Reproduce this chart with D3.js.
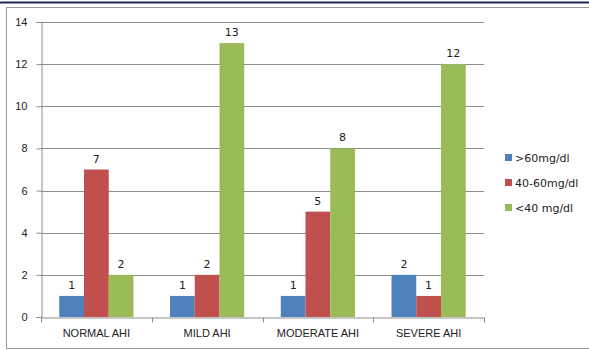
<!DOCTYPE html>
<html>
<head>
<meta charset="utf-8">
<script src="https://cdn.jsdelivr.net/npm/d3@7"></script>
<style>
  body { margin: 0; background: #fff; }
  svg { display: block; font-family: Tahoma, "DejaVu Sans", sans-serif; }
</style>
</head>
<body>
<div id="chart"></div>
<script>
// chart data
var categories = ["NORMAL AHI", "MILD AHI", "MODERATE AHI", "SEVERE AHI"];
var seriesNames = [">60mg/dl", "40-60mg/dl", "<40 mg/dl"];
var above60 = [1, 1, 1, 2];
var from40to60 = [7, 2, 5, 1];
var below40 = [2, 13, 8, 12];
var yTicks = [0, 2, 4, 6, 8, 10, 12, 14];

var seriesValues = [above60, from40to60, below40];
var colors = ["#4F81BD", "#C0504D", "#9BBB59"];

var W = 589, H = 350;
var margin = {top: 22, right: 105, bottom: 33, left: 41};
var width = W - margin.left - margin.right,
    height = H - margin.top - margin.bottom;

var svg = d3.select("#chart").append("svg")
    .attr("width", W)
    .attr("height", H);

// top rule and frame
svg.append("line")
    .attr("x1", 0).attr("x2", W)
    .attr("y1", 2.5).attr("y2", 2.5)
    .attr("stroke", "#1f2a5c").attr("stroke-width", 2);
svg.append("rect")
    .attr("x", 6.5).attr("y", 7.5)
    .attr("width", W).attr("height", 341)
    .attr("fill", "none").attr("stroke", "#9a9a9a");

var g = svg.append("g")
    .attr("transform", "translate(" + margin.left + "," + margin.top + ")");

var x = d3.scaleBand()
    .domain(categories)
    .range([0, width])
    .paddingInner(0.33)
    .paddingOuter(0.165);

var x1 = d3.scaleBand()
    .domain(d3.range(seriesNames.length))
    .range([0, x.bandwidth()]);

var y = d3.scaleLinear()
    .domain([0, 14])
    .range([height, 0]);

// gridlines
g.append("g")
    .selectAll("line")
    .data(yTicks.filter(function(d) { return d > 0; }))
    .enter().append("line")
      .attr("x1", 0).attr("x2", width)
      .attr("y1", function(d) { return Math.round(y(d)) + 0.5; })
      .attr("y2", function(d) { return Math.round(y(d)) + 0.5; })
      .attr("stroke", "#8c8c8c");

// y axis
var yAxis = g.append("g")
    .attr("transform", "translate(0.5,0)")
    .call(d3.axisLeft(y).tickValues(yTicks).tickSize(5).tickPadding(9));
yAxis.select(".domain").attr("stroke", "#8c8c8c");
yAxis.selectAll(".tick line").attr("stroke", "#8c8c8c");
yAxis.selectAll(".tick text").attr("font-size", 11).attr("fill", "#222");

// bars
var groups = g.selectAll(".group")
    .data(categories)
    .enter().append("g")
      .attr("class", "group")
      .attr("transform", function(d) { return "translate(" + x(d) + ",0)"; });

seriesValues.forEach(function(vals, si) {
  groups.append("rect")
      .attr("x", x1(si))
      .attr("width", x1.bandwidth())
      .attr("y", function(d, i) { return y(vals[i]); })
      .attr("height", function(d, i) { return height - y(vals[i]); })
      .attr("fill", colors[si]);

  groups.append("text")
      .attr("x", x1(si) + x1.bandwidth() / 2)
      .attr("y", function(d, i) { return y(vals[i]) - 7; })
      .attr("text-anchor", "middle")
      .attr("font-size", 11)
      .attr("fill", "#222")
      .text(function(d, i) { return vals[i]; });
});

// x axis
var xAxis = g.append("g")
    .attr("transform", "translate(0," + (height + 0.5) + ")")
    .call(d3.axisBottom(x).tickSize(0).tickPadding(12));
xAxis.select(".domain").attr("stroke", "#8c8c8c");
xAxis.selectAll(".tick text").attr("font-size", 11).attr("fill", "#222");
var step = width / categories.length;
xAxis.selectAll(".sep")
    .data(d3.range(categories.length + 1))
    .enter().append("line")
      .attr("x1", function(d) { return Math.round(d * step) + 0.5; })
      .attr("x2", function(d) { return Math.round(d * step) + 0.5; })
      .attr("y1", 0).attr("y2", 5)
      .attr("stroke", "#8c8c8c");

// legend
var legend = svg.selectAll(".legend")
    .data(seriesNames)
    .enter().append("g")
      .attr("class", "legend")
      .attr("transform", function(d, i) { return "translate(505," + (154 + i * 25) + ")"; });

legend.append("rect")
    .attr("width", 7).attr("height", 7)
    .attr("fill", function(d, i) { return colors[i]; });

legend.append("text")
    .attr("x", 10)
    .attr("y", 4)
    .attr("dy", ".35em")
    .attr("font-size", 11)
    .attr("fill", "#222")
    .text(function(d) { return d; });
</script>
</body>
</html>
